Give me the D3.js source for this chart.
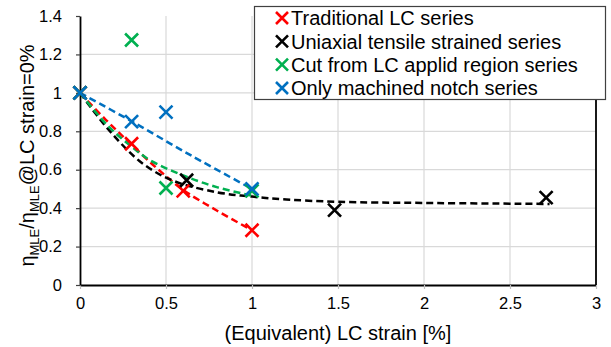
<!DOCTYPE html>
<html>
<head>
<meta charset="utf-8">
<script src="https://cdn.jsdelivr.net/npm/d3@7"></script>
<style>
  body { margin: 0; background: #fff; }
  text { font-family: "Liberation Sans", Arial, sans-serif; fill: #000; }
</style>
</head>
<body>
<div id="chart"></div>
<script>
// Series names and colours
const seriesNames = [
  "Traditional LC series",
  "Uniaxial tensile strained series",
  "Cut from LC applid region series",
  "Only machined notch series"
];
const seriesColors = ["#ff0000", "#000000", "#00b050", "#0070c0"];

// Measured points, [strain %, ratio]
const traditionalPts = [[0, 1], [0.3, 0.735], [0.6, 0.49], [1.0, 0.285]];
const uniaxialPts = [[0, 1], [0.62, 0.545], [1.48, 0.39], [2.71, 0.455]];
const cutPts = [[0, 1], [0.3, 1.275], [0.5, 0.505], [1.0, 0.49]];
const notchPts = [[0, 1], [0.3, 0.85], [0.5, 0.9], [1.0, 0.5]];

// Trendlines
const traditionalTrend = [[0, 1], [0.15, 0.86], [0.3, 0.73], [0.45, 0.605], [0.6, 0.495], [0.8, 0.385], [1.0, 0.285]];
const uniaxialTrend = [[0, 1], [0.16, 0.815], [0.36, 0.635], [0.55, 0.54], [0.8, 0.482], [1.0, 0.46], [1.2, 0.445], [1.5, 0.433], [2.0, 0.427], [2.73, 0.422]];
const cutTrend = [[0, 1], [0.16, 0.83], [0.3, 0.72], [0.41, 0.648], [0.6, 0.57], [0.8, 0.508], [1.0, 0.465]];
const notchTrend = [[0, 1], [0.3, 0.852], [0.65, 0.672], [1.0, 0.5]];

const allPts = [traditionalPts, uniaxialPts, cutPts, notchPts];
const allTrends = [traditionalTrend, uniaxialTrend, cutTrend, notchTrend];

// Tick labels
const xTicks = [0, 0.5, 1, 1.5, 2, 2.5, 3];
const yTicks = [0, 0.2, 0.4, 0.6, 0.8, 1, 1.2, 1.4];

const width = 611;
const height = 347;
const margin = { top: 16, right: 15, bottom: 62, left: 80 };

const svg = d3.select("#chart")
  .append("svg")
  .attr("width", width)
  .attr("height", height);

svg.append("rect").attr("width", width).attr("height", height).attr("fill", "#fff");

const xScale = d3.scaleLinear().domain([0, 3]).range([margin.left, width - margin.right]);
const yScale = d3.scaleLinear().domain([0, 1.4]).range([height - margin.bottom, margin.top]);

// Gridlines
svg.append("g")
  .selectAll("line")
  .data(yTicks.slice(1, -1))
  .enter()
  .append("line")
  .attr("x1", xScale(0))
  .attr("x2", xScale(3))
  .attr("y1", d => yScale(d))
  .attr("y2", d => yScale(d))
  .attr("stroke", "#d9d9d9")
  .attr("stroke-width", 1.2);

svg.append("g")
  .selectAll("line")
  .data(xTicks.slice(1, -1))
  .enter()
  .append("line")
  .attr("x1", d => xScale(d))
  .attr("x2", d => xScale(d))
  .attr("y1", yScale(0))
  .attr("y2", yScale(1.4))
  .attr("stroke", "#d9d9d9")
  .attr("stroke-width", 1.2);

// Axes
const xAxis = d3.axisBottom(xScale).tickValues(xTicks).tickSize(4).tickSizeOuter(0).tickFormat(d3.format("~g"));
const gx = svg.append("g")
  .attr("transform", `translate(0, ${yScale(0)})`)
  .call(xAxis);
gx.select(".domain").attr("stroke", "#000").attr("stroke-width", 1.8);
gx.selectAll(".tick line").attr("stroke", "#bfbfbf").attr("stroke-width", 1.2);
gx.selectAll(".tick text")
  .attr("y", 12)
  .attr("dy", "0.71em")
  .style("font-size", "16.5px")
  .style("font-family", "Liberation Sans, Arial, sans-serif")
  .attr("fill", "#000");

const yAxis = d3.axisLeft(yScale).tickValues(yTicks).tickSize(4).tickSizeOuter(0).tickFormat(d3.format("~g"));
const gy = svg.append("g")
  .attr("transform", `translate(${xScale(0)}, 0)`)
  .call(yAxis);
gy.select(".domain").attr("stroke", "#000").attr("stroke-width", 1.8);
gy.selectAll(".tick line").attr("stroke", "#404040").attr("stroke-width", 1.2);
gy.selectAll(".tick text")
  .attr("x", -18)
  .style("font-size", "16.5px")
  .style("font-family", "Liberation Sans, Arial, sans-serif")
  .attr("fill", "#000");

// Right border line
svg.append("line")
  .attr("x1", xScale(3))
  .attr("x2", xScale(3))
  .attr("y1", yScale(0))
  .attr("y2", yScale(1.4))
  .attr("stroke", "#000")
  .attr("stroke-width", 1.8);

// Trendlines
const line = d3.line()
  .x(d => xScale(d[0]))
  .y(d => yScale(d[1]))
  .curve(d3.curveCatmullRom.alpha(0.5));

svg.append("g")
  .selectAll("path")
  .data(allTrends)
  .enter()
  .append("path")
  .attr("d", d => line(d))
  .attr("fill", "none")
  .attr("stroke", (d, i) => seriesColors[i])
  .attr("stroke-width", 2.5)
  .attr("stroke-dasharray", "7,4");

// X markers
const markerPath = (x, y, r) => `M${x - r},${y - r}L${x + r},${y + r}M${x - r},${y + r}L${x + r},${y - r}`;

allPts.forEach((pts, i) => {
  svg.append("g")
    .selectAll("path")
    .data(pts)
    .enter()
    .append("path")
    .attr("d", d => markerPath(xScale(d[0]), yScale(d[1]), 6.5))
    .attr("stroke", seriesColors[i])
    .attr("stroke-width", 2.6)
    .attr("fill", "none");
});

// Axis titles
svg.append("text")
  .attr("x", (xScale(0) + xScale(3)) / 2)
  .attr("y", 340)
  .attr("text-anchor", "middle")
  .style("font-size", "20px")
  .text("(Equivalent) LC strain [%]");

const yTitle = svg.append("text")
  .attr("transform", `translate(34, ${(yScale(0) + yScale(1.4)) / 2 + 5}) rotate(-90)`)
  .attr("text-anchor", "middle")
  .style("font-size", "20px");
yTitle.append("tspan").text("η");
yTitle.append("tspan").attr("dy", 5).style("font-size", "13px").text("MLE");
yTitle.append("tspan").attr("dy", -5).text("/η");
yTitle.append("tspan").attr("dy", 5).style("font-size", "13px").text("MLE");
yTitle.append("tspan").attr("dy", -5).text("@LC strain=0%");

// Legend
const legend = svg.append("g");
legend.append("rect")
  .attr("x", 254.5)
  .attr("y", 6.5)
  .attr("width", 351)
  .attr("height", 93)
  .attr("fill", "#fff")
  .attr("stroke", "#404040")
  .attr("stroke-width", 1.2);

const legendRow = d3.scaleLinear().domain([0, 3]).range([18, 88]);
seriesNames.forEach((name, i) => {
  const cy = legendRow(i);
  legend.append("path")
    .attr("d", markerPath(282, cy, 6))
    .attr("stroke", seriesColors[i])
    .attr("stroke-width", 2.6)
    .attr("fill", "none");
  legend.append("text")
    .attr("x", 291)
    .attr("y", cy)
    .attr("dy", "0.36em")
    .style("font-size", "20px")
    .text(name);
});
</script>
</body>
</html>
